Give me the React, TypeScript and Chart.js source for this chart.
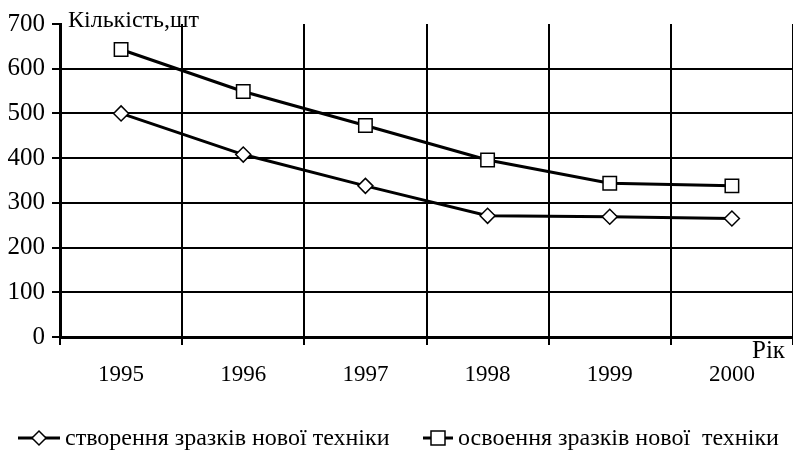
import React, { useEffect, useRef } from "react";
import { Chart, registerables } from "chart.js";

Chart.register(...registerables);

const years = ["1995", "1996", "1997", "1998", "1999", "2000"];
const creation = [500, 408, 338, 271, 269, 265];
const mastering = [643, 549, 473, 396, 344, 338];
const seriesNames = ["створення зразків нової техніки", "освоення зразків нової  техніки"];
const yTitle = "Кількість,шт";
const xTitle = "Рік";

const FONT = "'Liberation Serif', 'Times New Roman', serif";

const overlay = {
  id: "overlay",
  afterDraw(chart: any) {
    const ctx = chart.ctx;
    const area = chart.chartArea;
    ctx.save();
    ctx.fillStyle = "#000";
    ctx.font = `24px ${FONT}`;
    ctx.textBaseline = "alphabetic";
    ctx.textAlign = "left";
    ctx.fillText(yTitle, area.left + 8, area.top + 3);
    ctx.font = `25px ${FONT}`;
    ctx.textAlign = "right";
    ctx.fillText(xTitle, area.right - 8, area.bottom + 21);

    // legend
    const ly = 438;
    ctx.font = `24px ${FONT}`;
    ctx.textAlign = "left";
    ctx.textBaseline = "middle";
    const drawItem = (x0: number, x1: number, style: string, text: string, tx: number) => {
      ctx.strokeStyle = "#000";
      ctx.lineWidth = 3;
      ctx.beginPath();
      ctx.moveTo(x0, ly);
      ctx.lineTo(x1, ly);
      ctx.stroke();
      ctx.lineWidth = 1.5;
      ctx.fillStyle = "#fff";
      ctx.beginPath();
      const cx = (x0 + x1) / 2;
      if (style === "rectRot") {
        const r = 7;
        ctx.moveTo(cx - r, ly);
        ctx.lineTo(cx, ly - r);
        ctx.lineTo(cx + r, ly);
        ctx.lineTo(cx, ly + r);
        ctx.closePath();
      } else {
        ctx.rect(cx - 7, ly - 7, 14, 14);
      }
      ctx.fill();
      ctx.stroke();
      ctx.fillStyle = "#000";
      ctx.fillText(text, tx, ly + 1);
    };
    drawItem(18, 60, "rectRot", seriesNames[0], 65);
    drawItem(423, 453, "rect", seriesNames[1], 458);
    ctx.restore();
  },
};

export default function App() {
  const ref = useRef<HTMLCanvasElement>(null);
  useEffect(() => {
    if (!ref.current) return;
    const chart = new Chart(ref.current, {
      type: "line",
      data: {
        labels: years,
        datasets: [
          {
            label: seriesNames[0],
            data: creation,
            borderColor: "#000",
            borderWidth: 3,
            pointStyle: "rectRot",
            pointRadius: 7.5,
            pointBorderWidth: 1.5,
            pointBackgroundColor: "#fff",
            pointBorderColor: "#000",
            fill: false,
          },
          {
            label: seriesNames[1],
            data: mastering,
            borderColor: "#000",
            borderWidth: 3,
            pointStyle: "rect",
            pointRadius: 9.5,
            pointBorderWidth: 1.5,
            pointBackgroundColor: "#fff",
            pointBorderColor: "#000",
            fill: false,
          },
        ],
      },
      options: {
        animation: false,
        responsive: false,
        layout: { autoPadding: false, padding: { left: 0, right: 0, top: 24, bottom: 0 } },
        plugins: { legend: { display: false }, tooltip: { enabled: false } },
        scales: {
          x: {
            offset: true,
            grid: {
              offset: true,
              color: "#000",
              lineWidth: 2,
              tickLength: 8,
              tickColor: "#000",
              drawTicks: true,
            },
            border: { color: "#000", width: 3 },
            ticks: { color: "#000", font: { family: FONT, size: 23 }, padding: 16, maxRotation: 0 },
            afterFit: (s: any) => {
              s.height = 117;
              s.paddingLeft = 0;
              s.paddingRight = 0;
            },
          },
          y: {
            min: 0,
            max: 700,
            ticks: { stepSize: 100, color: "#000", font: { family: FONT, size: 25 }, padding: 7 },
            grid: {
              color: (c: any) => (c.tick && c.tick.value === 700 ? "rgba(0,0,0,0)" : "#000"),
              tickColor: "#000",
              lineWidth: 2,
              tickLength: 8,
            },
            border: { color: "#000", width: 3 },
            afterFit: (s: any) => {
              s.width = 60;
              s.paddingTop = 0;
              s.paddingBottom = 0;
            },
          },
        },
      },
      plugins: [overlay],
    });
    return () => chart.destroy();
  }, []);
  return (
    <div style={{ position: "absolute", left: 0, top: 0, width: 793, height: 454, background: "#fff" }}>
      <canvas ref={ref} width={793} height={454} />
    </div>
  );
}
